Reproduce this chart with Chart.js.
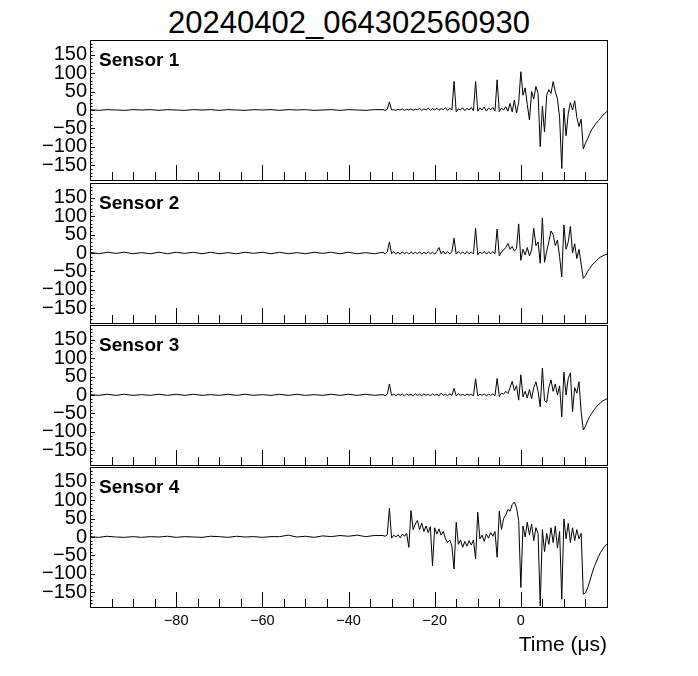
<!DOCTYPE html>
<html>
<head>
<meta charset="utf-8">
<script src="https://cdn.jsdelivr.net/npm/chart.js@4/dist/chart.umd.min.js"></script>
<style>
html,body{margin:0;padding:0;background:#fff;}
#wrap{position:relative;width:698px;height:676px;overflow:hidden;background:#fff;font-family:"Liberation Sans",Arial,sans-serif;color:#000;}
canvas{position:absolute;left:0;}
#title{position:absolute;left:0;top:7px;width:698px;text-align:center;font-size:31px;line-height:31px;white-space:nowrap;}
.lab{position:absolute;left:99px;font-weight:bold;font-size:19px;line-height:19px;white-space:nowrap;}
</style>
</head>
<body>
<div id="wrap">
  <div id="title">20240402_064302560930</div>
  <canvas id="c1" width="698" height="180" style="top:20px"></canvas>
  <canvas id="c2" width="698" height="180" style="top:163px"></canvas>
  <canvas id="c3" width="698" height="180" style="top:305px"></canvas>
  <canvas id="c4" width="698" height="216" style="top:447px"></canvas>
  <div class="lab" style="top:50px">Sensor 1</div>
  <div class="lab" style="top:193px">Sensor 2</div>
  <div class="lab" style="top:335px">Sensor 3</div>
  <div class="lab" style="top:477px">Sensor 4</div>
</div>
<script>
// ---- data (time in microseconds) ----
const timeUs = [-100,-98,-96,-94,-92,-90,-88,-86,-84,-82,-80,-78,-76,-74,-72,-70,-68,-66,-64,-62,-60,-58,-56,-54,-52,-50,-48,-46,-44,-42,-40,-38,-36,-34,
-32,-31.5,-31,-30.5,-30,-29.5,-29,-28.5,-28,-27.5,-27,-26.5,-26,-25.5,-25,-24.5,-24,-23.5,-23,-22.5,-22,-21.5,-21,-20.5,-20,-19.5,-19,-18.5,-18,-17.5,-17,-16.5,-16,-15.5,-15,-14.5,-14,-13.5,-13,-12.5,-12,-11.5,-11,-10.5,-10,-9.5,-9,-8.5,-8,-7.5,-7,-6.5,-6,-5.5,-5,-4.5,-4,-3.5,-3,-2.5,-2,-1.5,-1,-0.5,0,0.5,1,1.5,2,2.5,3,3.5,4,4.5,5,5.5,6,6.5,7,7.5,8,8.5,9,9.5,10,10.5,11,11.5,12,12.5,13,13.5,14,14.5,15,15.5,16,16.5,17,17.5,18,18.5,19,19.5,20];

const sensor1 = [1,-1,1,0,-1,1,0,1,-1,1, 0,-1,1,0,1,-1,1,0,-1,1, 0,1,-1,1,0,1,-1,0,1,-1, 1,0,-1,1,
1,-1,2,22,0,1,-1,2,0,3,
-1,2,0,3,-1,2,1,4,-1,3,
0,5,-1,4,0,5,-1,4,1,6,
-1,4,0,78,-5,3,0,6,-2,5,
0,7,-2,77,-3,6,0,8,-3,5,
1,7,-3,82,-4,5,0,9,-3,18,
-5,27,-8,20,104,40,60,15,-27,50,
30,64,45,-100,10,-60,40,55,45,77,
50,30,-20,-159,5,-70,-10,20,0,25,
-20,-45,-25,-106,-90,-78,-64,-52,-44,-36,
-29,-22,-15,-9,-4];

const sensor2 = [2,-2,2,-1,2,-2,1,-2,2,-2, 2,-1,2,-2,2,-2,1,-2,2,-1, 2,-2,2,-2,1,-2,2,-1,2,-2, 2,-2,1,-2,
2,-2,3,30,-2,3,-2,2,-3,3,
-2,2,-3,3,-2,2,-2,3,-3,2,
-2,3,-2,2,-3,4,15,-2,5,-3,
4,-2,3,40,-3,4,-2,3,-3,4,
-2,3,-3,67,-5,3,-2,4,-3,3,
-2,4,-2,65,-8,3,8,15,26,10,
18,5,12,79,-20,10,-5,15,-8,8,
67,20,30,-28,95,-25,5,30,60,50,
20,35,-10,-65,76,10,30,72,0,25,
-15,10,-30,-69,-62,-50,-42,-33,-27,-21,
-15,-11,-8,-5,-3];

const sensor3 = [1,-1,2,-1,2,-1,1,-1,2,-1, 2,-1,2,-1,1,-1,2,-1,2,-1, 1,-1,2,-1,2,-1,1,-1,2,-1, 2,-1,2,-1,
1,-2,2,30,-1,2,-2,3,-1,2,
-2,3,-1,2,-2,3,-1,2,-2,3,
-1,2,-2,3,-1,2,-2,5,-1,2,
-2,3,-1,18,-2,3,-1,2,-2,3,
-1,2,-2,44,-2,2,-1,3,-2,2,
-1,3,-2,45,-4,5,2,10,4,20,
37,12,25,-14,55,-5,10,-8,15,-10,
20,36,10,-32,73,-15,-20,20,41,10,
30,0,25,-59,62,0,45,60,-45,20,
5,36,-45,-95,-85,-70,-58,-49,-40,-33,
-26,-21,-16,-13,-10];

const sensor4 = [1,-1,2,0,-1,1,-1,1,0,2, -1,1,0,-1,2,1,-1,2,0,1, -1,1,1,5,0,2,-1,3,1,4, 2,5,1,4,
4,2,6,78,-3,5,0,6,-2,8,
2,10,-28,72,20,35,45,20,38,15,
30,12,28,-78,25,8,22,5,15,-5,
-15,-8,-25,-87,40,-20,-8,-28,-12,-25,
-10,-22,-8,-60,67,-5,5,-12,8,-3,
12,2,15,-55,70,20,50,60,75,70,
88,95,80,45,-137,30,0,40,5,35,
-10,25,10,-187,20,-40,10,-20,25,-15,
30,-30,15,-169,49,-5,37,-15,25,-10,
20,-5,10,-155,-152,-138,-120,-100,-82,-68,
-54,-42,-33,-25,-19];

const xTickValues = [-80,-60,-40,-20,0];
const yTickValues = [-150,-100,-50,0,50,100,150];
const xRange = [-100, 20];
const yRange = [-190, 190];

// ---- drawing ----
Chart.defaults.font.family = "'Liberation Sans', Arial, sans-serif";
Chart.defaults.color = '#000';

const fmt = v => String(v).replace('-', '\u2212');

const rootFrame = {
  id: 'rootFrame',
  afterDatasetsDraw(chart) {
    const {ctx, chartArea: a, scales: {x, y}} = chart;
    ctx.save();
    ctx.strokeStyle = '#000';
    ctx.lineWidth = 1;
    ctx.beginPath();
    for (let v = xRange[0] + 5; v < xRange[1]; v += 5) {
      const px = Math.round(x.getPixelForValue(v)) + 0.5;
      const len = (v % 20 === 0) ? 15 : 8;
      ctx.moveTo(px, a.bottom);
      ctx.lineTo(px, a.bottom - len);
    }
    for (let v = yRange[0] + 10; v < yRange[1]; v += 10) {
      const py = Math.round(y.getPixelForValue(v)) + 0.5;
      const len = (v % 50 === 0) ? 5 : 2.5;
      ctx.moveTo(a.left, py);
      ctx.lineTo(a.left + len, py);
    }
    ctx.stroke();
    ctx.strokeRect(Math.round(a.left) + 0.5, Math.round(a.top) + 0.5, Math.round(a.width), Math.round(a.height));
    ctx.restore();
  }
};

function makePanel(id, values, isBottom) {
  return new Chart(document.getElementById(id), {
    type: 'line',
    data: {
      datasets: [{
        data: timeUs.map((t, i) => ({x: t, y: values[i]})),
        borderColor: '#000',
        borderWidth: 1,
        pointRadius: 0,
        tension: 0,
        fill: false
      }]
    },
    options: {
      responsive: false,
      animation: false,
      events: [],
      layout: {padding: {left: 0, right: 91, top: 20, bottom: isBottom ? 5 : 20}},
      plugins: {legend: {display: false}, tooltip: {enabled: false}, title: {display: false}},
      scales: {
        x: {
          type: 'linear', min: xRange[0], max: xRange[1], display: isBottom,
          grid: {display: false, drawTicks: false}, border: {display: false},
          afterBuildTicks: s => { s.ticks = xTickValues.map(v => ({value: v})); },
          afterFit: s => { s.height = isBottom ? 51 : 0; },
          ticks: {padding: 5, font: {size: 14.5}, color: '#000', maxRotation: 0, minRotation: 0, autoSkip: false, callback: v => fmt(v)},
          title: {display: isBottom, text: 'Time (\u03bcs)', align: 'end', font: {size: 21}, color: '#000', padding: 0}
        },
        y: {
          type: 'linear', min: yRange[0], max: yRange[1],
          grid: {display: false, drawTicks: false}, border: {display: false},
          afterBuildTicks: s => { s.ticks = yTickValues.map(v => ({value: v})); },
          afterFit: s => { s.width = 90; },
          ticks: {padding: 3, font: {size: 20}, color: '#000', autoSkip: false, callback: v => fmt(v)}
        }
      }
    },
    plugins: [rootFrame]
  });
}

makePanel('c1', sensor1, false);
makePanel('c2', sensor2, false);
makePanel('c3', sensor3, false);
makePanel('c4', sensor4, true);
</script>
</body>
</html>
